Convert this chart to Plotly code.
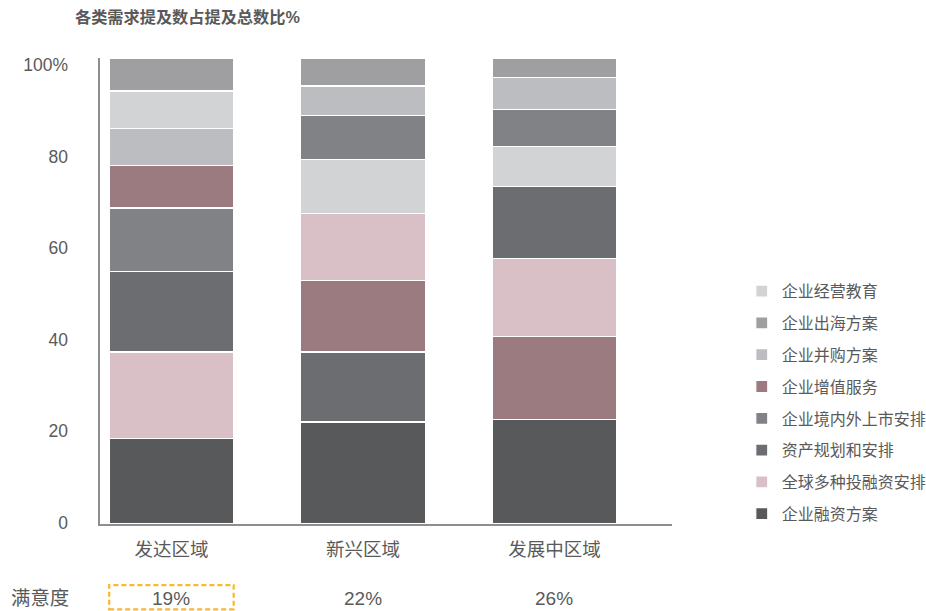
import plotly.graph_objects as go

categories = ["发达区域", "新兴区域", "发展中区域"]
series_names = ["企业经营教育", "企业出海方案", "企业并购方案", "企业增值服务",
                "企业境内外上市安排", "资产规划和安排", "全球多种投融资安排", "企业融资方案"]
series_colors = ["#d2d3d4", "#9f9fa2", "#bcbdc0", "#9b7b80",
                 "#818285", "#6c6d70", "#d8c0c6", "#58595b"]

edu = [8.0, 11.5, 8.6]
overseas = [7.1, 6.0, 4.2]
mna = [8.0, 6.4, 6.9]
value_added = [9.1, 15.4, 17.8]
listing = [13.7, 9.4, 7.9]
asset_plan = [17.2, 15.0, 15.4]
global_inv = [18.5, 14.4, 16.7]
financing = [18.4, 21.9, 22.5]
values = [edu, overseas, mna, value_added, listing, asset_plan, global_inv, financing]

# stacking order per region, bottom to top (indices into series_names)
stack_orders = [
    [7, 6, 5, 4, 3, 2, 0, 1],
    [7, 5, 3, 6, 0, 4, 2, 1],
    [7, 3, 6, 5, 0, 4, 2, 1],
]

satisfaction = ["19%", "22%", "26%"]
y_ticks = [0, 20, 40, 60, 80, 100]
y_tick_text = ["0", "20", "40", "60", "80", "100%"]

bar_width = 0.65
font_family = "Liberation Sans, Noto Sans CJK SC, sans-serif"
text_color = "#5a5a5a"

fig = go.Figure()
shown = set()
for ci, cat in enumerate(categories):
    for si in stack_orders[ci]:
        name = series_names[si]
        fig.add_trace(go.Bar(
            x=[cat], y=[values[si][ci]], name=name,
            marker=dict(color=series_colors[si], line=dict(color="white", width=1.2)),
            width=bar_width,
            legendgroup=name, showlegend=name not in shown,
            legendrank=si + 1,
        ))
        shown.add(name)

# empty helper trace so the tick-label axis is drawn
fig.add_trace(go.Scatter(x=[], y=[], yaxis="y2", showlegend=False, hoverinfo="skip"))

fig.update_layout(
    width=926, height=611,
    barmode="stack",
    paper_bgcolor="white", plot_bgcolor="white",
    margin=dict(l=100, r=254, t=58, b=87, autoexpand=False),
    font=dict(family=font_family, color=text_color),
    legend=dict(x=1.122, y=0.536, xanchor="left", yanchor="top",
                font=dict(size=16, color=text_color), tracegroupgap=8,
                itemwidth=30),
    xaxis=dict(type="category", range=[-0.373, 2.614], showline=True,
               linecolor="#8e8e8e", linewidth=2, ticks="", showgrid=False,
               tickfont=dict(size=18.5, color=text_color), ticklabelstandoff=8),
    yaxis=dict(range=[0, 100], showline=True, linecolor="#8e8e8e", linewidth=2,
               showgrid=False, zeroline=False, showticklabels=False, ticks=""),
    yaxis2=dict(overlaying="y", side="left", range=[-0.22, 101.5], showline=False,
                showgrid=False, zeroline=False, tickvals=y_ticks, ticktext=y_tick_text,
                ticks="", tickfont=dict(size=17.5, color=text_color), ticklabelstandoff=31),
    showlegend=True,
)

fig.add_annotation(text="<b>各类需求提及数占提及总数比%</b>", xref="paper", yref="paper",
                   x=-0.048, y=1.087, xanchor="left", yanchor="middle", showarrow=False,
                   font=dict(size=16.2, color="#595959"))
fig.add_annotation(text="满意度", xref="paper", yref="paper", x=-0.105, y=-0.159,
                   xanchor="center", yanchor="middle", showarrow=False,
                   font=dict(size=19.4, color=text_color))
for ci, cat in enumerate(categories):
    fig.add_annotation(text=satisfaction[ci], xref="x", yref="paper", x=ci, y=-0.159,
                       xanchor="center", yanchor="middle", showarrow=False,
                       font=dict(size=19, color=text_color))

fig.add_shape(type="rect", xref="x", yref="paper",
              x0=-bar_width / 2, x1=bar_width / 2, y0=-0.183, y1=-0.131,
              line=dict(color="#fbb829", width=2.2, dash="5px,3px"))

fig.write_html("out.html", config={"displayModeBar": False},
               post_script="document.body.style.margin='0';document.body.style.overflow='hidden';")
